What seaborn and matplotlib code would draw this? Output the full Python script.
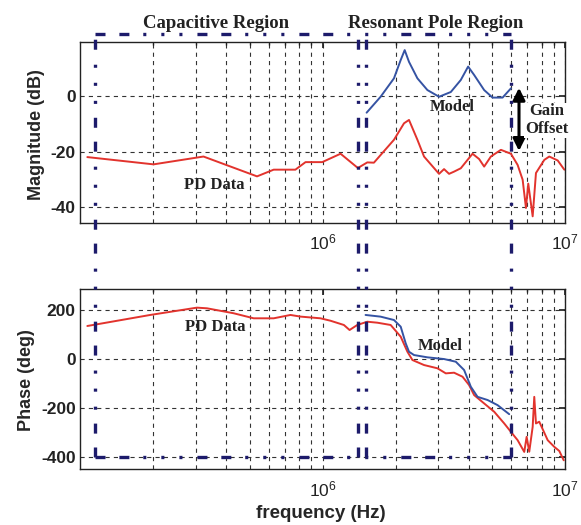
import numpy as np
import pandas as pd
import seaborn as sns
import matplotlib.pyplot as plt
from matplotlib.lines import Line2D
from matplotlib.transforms import blended_transform_factory
from matplotlib.ticker import NullFormatter

# datos (frecuencia en Hz)
mag_pd_freq = [1.072e5, 2.01e5, 3.23e5, 5.37e5, 6.29e5, 7.73e5, 8.51e5, 9.97e5, 1.187e6,
               1.399e6, 1.530e6, 1.629e6, 1.971e6, 2.168e6, 2.273e6, 2.462e6, 2.622e6,
               3.024e6, 3.171e6, 3.326e6, 3.487e6, 3.717e6, 4.155e6, 4.424e6, 4.640e6,
               4.946e6, 5.440e6, 5.983e6, 6.376e6, 6.687e6, 6.901e6, 7.053e6, 7.355e6,
               7.589e6, 8.213e6, 8.611e6, 9.328e6, 9.934e6]
mag_pd_db = [-22.0, -24.6, -21.8, -28.9, -26.5, -26.5, -23.8, -23.8, -20.8,
             -25.9, -23.9, -24.0, -15.8, -9.9, -8.7, -15.8, -21.8,
             -28.0, -26.3, -28.0, -27.2, -26.0, -20.8, -22.7, -25.4,
             -21.8, -19.4, -20.8, -24.8, -30.1, -40.2, -31.5, -43.2,
             -27.7, -23.0, -21.8, -23.2, -26.5]

mag_model_freq = [1.520e6, 1.736e6, 1.971e6, 2.101e6, 2.182e6, 2.273e6, 2.462e6, 2.707e6,
                  3.024e6, 3.381e6, 3.717e6, 3.985e6, 4.219e6, 4.640e6, 5.026e6, 5.527e6,
                  5.983e6]
mag_model_db = [-6.1, -0.4, 6.2, 12.75, 16.3, 12.1, 6.2, 2.0,
                -0.4, 1.3, 5.6, 10.4, 7.4, 2.0, -0.7, -0.7,
                2.6]

ph_pd_freq = [1.072e5, 1.947e5, 3.035e5, 3.339e5, 4.300e5, 5.202e5, 6.29e5, 7.375e5,
              8.111e5, 9.81e5, 1.079e6, 1.225e6, 1.293e6, 1.391e6, 1.530e6, 1.683e6,
              1.910e6, 2.101e6, 2.239e6, 2.348e6, 2.622e6, 2.979e6, 3.224e6, 3.487e6,
              3.779e6, 4.023e6, 4.219e6, 4.640e6, 5.104e6, 5.614e6, 5.983e6, 6.376e6,
              6.790e6, 6.946e6, 7.120e6, 7.355e6, 7.468e6, 7.589e6, 7.831e6, 8.482e6,
              9.032e6, 9.472e6, 9.877e6]
ph_pd_deg = [135.5, 180.7, 210.7, 208, 187.7, 167, 167, 180.7,
             174, 167, 157, 139.6, 119, 139.6, 153, 149,
             139.6, 91.6, 30, -4, -24.6, -38, -58.7, -56,
             -72.5, -106.8, -147.8, -182, -216, -264, -298.6, -332.6,
             -380.7, -319, -380, -278, -155, -264, -257, -332.6,
             -360, -377, -415]

ph_model_freq = [1.505e6, 1.736e6, 1.971e6, 2.101e6, 2.203e6, 2.273e6, 2.384e6, 2.707e6,
                 3.171e6, 3.545e6, 3.836e6, 4.089e6, 4.359e6, 4.794e6, 5.272e6, 5.886e6]
ph_model_deg = [180.7, 173.8, 160, 132.6, 64.5, 30, 16.4, 7,
                0, -11, -45, -113.7, -155, -168, -189, -226]

# limites de las regiones (Hz)
cap_region = [1.153e5, 1.397e6]
res_region = [1.505e6, 5.983e6]

rojo = "#e2332d"
azul = "#3553a3"
navy = "#1d1b6b"

sns.set_theme(style="white")
plt.rcParams['font.family'] = ['Liberation Sans', 'DejaVu Sans']
plt.rcParams['mathtext.fontset'] = 'custom'
plt.rcParams['mathtext.rm'] = 'Liberation Sans:bold'
plt.rcParams['mathtext.it'] = 'Liberation Sans:bold'
plt.rcParams['axes.unicode_minus'] = False
plt.rcParams['lines.scale_dashes'] = False

fig = plt.figure(figsize=(5.81, 5.25), dpi=100)
ax1 = fig.add_axes([0.1377, 0.5752, 0.8348, 0.3448])
ax2 = fig.add_axes([0.1377, 0.1061, 0.8348, 0.3429])

sns.lineplot(x=mag_pd_freq, y=mag_pd_db, ax=ax1, color=rojo, lw=1.4)
sns.lineplot(x=mag_model_freq, y=mag_model_db, ax=ax1, color=azul, lw=1.4)
sns.lineplot(x=ph_pd_freq, y=ph_pd_deg, ax=ax2, color=rojo, lw=1.4)
sns.lineplot(x=ph_model_freq, y=ph_model_deg, ax=ax2, color=azul, lw=1.4)

for ax in (ax1, ax2):
    ax.set_xscale("log")
    ax.set_xlim(1e5, 1e7)
    ax.set_xticks([1e6, 1e7])
    ax.xaxis.set_minor_formatter(NullFormatter())
    ax.grid(True, which="both", axis="x", ls=(0, (3, 3)), color="#333333", lw=0.8)
    ax.grid(True, which="major", axis="y", ls=(0, (3, 3)), color="#333333", lw=0.8)
    ax.tick_params(which="both", direction="in", top=True, right=True, colors="#222222",
                   labelsize=12.5)
    ax.tick_params(which="major", length=4)
    ax.tick_params(which="minor", length=2)
    ax.tick_params(axis="x", pad=7)
    ax.tick_params(axis="y", pad=3)
    for s in ax.spines.values():
        s.set_color("#222222")
        s.set_linewidth(1.0)

ax1.set_ylim(-45.6, 19.2)
ax1.set_yticks([-40, -20, 0])
ax2.set_ylim(-452, 286)
ax2.set_yticks([-400, -200, 0, 200])
for ax in (ax1, ax2):
    for lab in ax.get_yticklabels():
        lab.set_fontweight("bold")

ax1.set_ylabel("Magnitude (dB)", fontsize=13, fontweight="bold")
ax2.set_ylabel("Phase (deg)", fontsize=13, fontweight="bold")
ax1.yaxis.set_label_coords(-0.072, 0.489)
ax2.yaxis.set_label_coords(-0.093, 0.493)
ax2.set_xlabel("frequency (Hz)", fontsize=13.5, fontweight="bold")
ax2.xaxis.set_label_coords(0.497, -0.2)

# etiquetas de texto (serif, negrita)
serif = dict(family=["Liberation Serif", "DejaVu Serif"], fontweight="bold", color="#222222")
ax1.text(3.58e5, -31.9, "PD Data", ha="center", va="center", fontsize=12, **serif)
ax1.text(3.44e6, -4.0, "Model", ha="center", va="center", fontsize=12, **serif)
ax2.text(3.6e5, 132.6, "PD Data", ha="center", va="center", fontsize=12, **serif)
ax2.text(3.07e6, 53.4, "Model", ha="center", va="center", fontsize=12, **serif)
ax1.text(8.4e6, -8.8, "Gain\nOffset", ha="center", va="center", fontsize=12,
         linespacing=1.15, clip_on=False, zorder=5,
         bbox=dict(facecolor="white", edgecolor="none", pad=0.5), **serif)
ax1.annotate("", xy=(6.46e6, 2.8), xytext=(6.46e6, -19.8),
             arrowprops=dict(arrowstyle="<|-|>", color="black", lw=2.2,
                             mutation_scale=18, shrinkA=0, shrinkB=0))

# regiones con lineas punto-raya
tr = blended_transform_factory(ax1.transData, fig.transFigure)
y_top = 1 - 34 / 525
y_bot = 1 - 457 / 525
patron = (0, (7.2, 10, 7.2, 10, 2.2, 10.8, 2.2, 10.8, 2.2, 10.8))
estilo = dict(transform=tr, color=navy, lw=2.4, ls=patron, dash_capstyle="butt")
fig.add_artist(Line2D([cap_region[0], res_region[1]], [y_top, y_top], **estilo))
fig.add_artist(Line2D([cap_region[0], res_region[1]], [y_bot, y_bot], **estilo))
for f in cap_region + res_region:
    fig.add_artist(Line2D([f, f], [y_bot, y_top], **estilo))

fig.text(3.65e5, 0.956, "Capacitive Region", transform=tr, ha="center", va="center",
         fontsize=13.5, **serif)
fig.text(2.93e6, 0.956, "Resonant Pole Region", transform=tr, ha="center", va="center",
         fontsize=13.5, **serif)

fig.savefig("out.png", dpi=100)
